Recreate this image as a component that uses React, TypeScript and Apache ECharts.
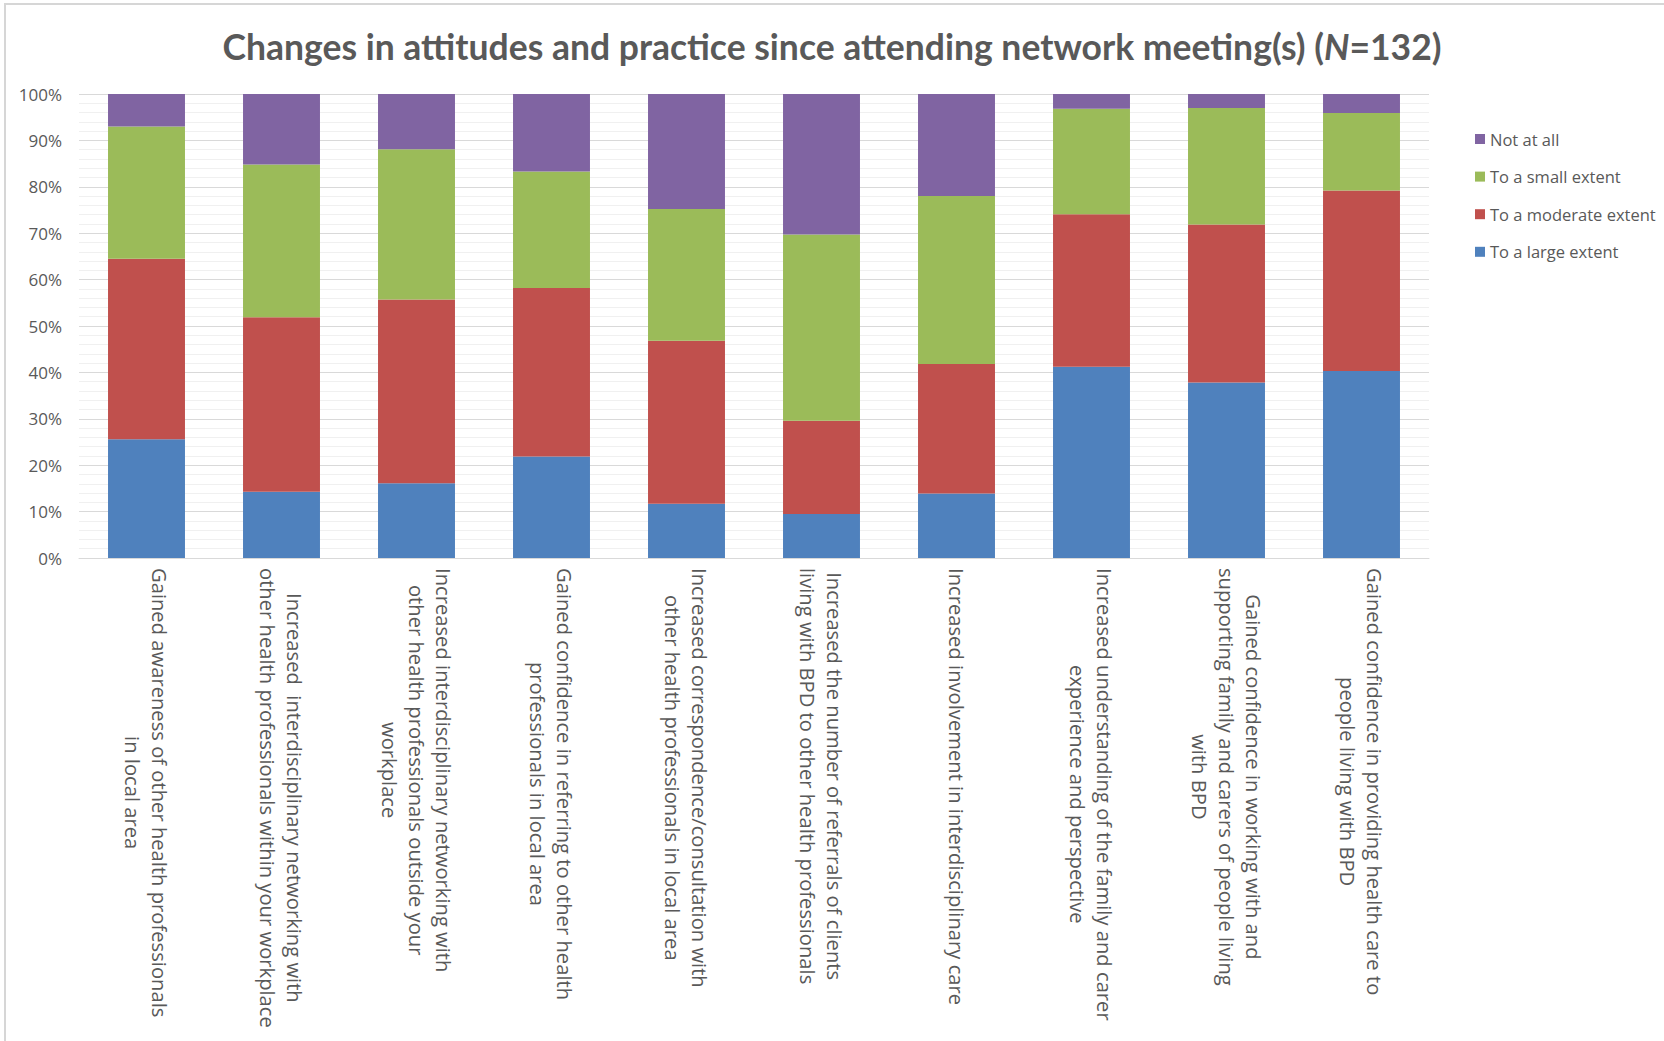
import React, { useEffect, useRef } from "react";
import * as echarts from "echarts";

const categories: string[] = [
  "Gained awareness of other health professionals\nin local area",
  "Increased  interdisciplinary networking with\nother health professionals within your workplace",
  "Increased interdisciplinary networking with\nother health professionals outside your\nworkplace",
  "Gained confidence in referring to other health\nprofessionals in local area",
  "Increased correspondence/consultation with\nother health professionals in local area",
  "Increased the number of referrals of clients\nliving with BPD to other health professionals",
  "Increased involvement in interdisciplinary care",
  "Increased understanding of the family and carer\nexperience and perspective",
  "Gained confidence in working with and\nsupporting family and carers of people living\nwith BPD",
  "Gained confidence in providing health care to\npeople living with BPD",
];

const largeExtent: number[] = [25.6, 14.3, 16.1, 21.9, 11.7, 9.5, 13.9, 41.2, 37.8, 40.3];
const moderateExtent: number[] = [38.9, 37.6, 39.6, 36.3, 35.1, 20.1, 27.9, 32.9, 34.1, 38.9];
const smallExtent: number[] = [28.5, 32.9, 32.4, 25.1, 28.4, 40.1, 36.2, 22.7, 25.1, 16.7];
const notAtAll: number[] = [7.0, 15.2, 11.9, 16.7, 24.8, 30.3, 22.0, 3.2, 3.0, 4.1];

const seriesNames: string[] = ["To a large extent", "To a moderate extent", "To a small extent", "Not at all"];
const legendOrder: string[] = ["Not at all", "To a small extent", "To a moderate extent", "To a large extent"];
const seriesColors: string[] = ["#4F81BD", "#C0504D", "#9BBB59", "#8064A2"];

const titleText = "Changes in attitudes and practice since attending network meeting(s) ({i|N}=132)";

export default function App() {
  const ref = useRef<HTMLDivElement>(null);

  useEffect(() => {
    if (!ref.current) return;
    const chart = echarts.init(ref.current, null, { renderer: "svg" });
    const values = [largeExtent, moderateExtent, smallExtent, notAtAll];
    const textColor = "#595959";
    const font = "'Open Sans', 'Noto Sans', sans-serif";
    const titleFont = "Lato, 'Open Sans', sans-serif";

    chart.setOption({
      animation: false,
      backgroundColor: "#ffffff",
      title: {
        text: titleText,
        left: "center",
        top: 23,
        textStyle: {
          fontFamily: titleFont,
          fontWeight: "bold",
          fontSize: 35.5,
          color: textColor,
          rich: {
            i: {
              fontFamily: titleFont,
              fontWeight: "bold",
              fontStyle: "italic",
              fontSize: 35.5,
              color: textColor,
            },
          },
        },
      },
      graphic: [
        {
          type: "rect",
          silent: true,
          shape: { x: 5, y: 4, width: 1700, height: 1100 },
          style: { fill: "none", stroke: "#d6d6d6", lineWidth: 2 },
        },
      ],
      legend: {
        orient: "vertical",
        left: 1470,
        top: 125.5,
        itemWidth: 10,
        itemHeight: 10,
        itemGap: 20.6,
        icon: "rect",
        data: legendOrder,
        textStyle: { fontFamily: font, fontSize: 16.5, color: textColor },
      },
      grid: { left: 79, right: 235, top: 94, bottom: 483, containLabel: false },
      xAxis: {
        type: "category",
        data: categories,
        axisTick: { show: false },
        axisLine: { lineStyle: { color: "#d9d9d9", width: 1 } },
        axisLabel: {
          interval: 0,
          rotate: -90,
          margin: 10,
          formatter: (v: string) => v.split("\n").map((l) => "{c|" + l + "}").join("\n"),
          rich: {
            c: { align: "center", fontFamily: font, fontSize: 20.2, lineHeight: 27, color: textColor },
          },
        },
      },
      yAxis: {
        type: "value",
        min: 0,
        max: 100,
        interval: 10,
        axisLine: { show: false },
        axisTick: { show: false },
        axisLabel: {
          formatter: "{value}%",
          margin: 17,
          fontFamily: font,
          fontSize: 17,
          color: textColor,
        },
        splitLine: { lineStyle: { color: "#d9d9d9", width: 1 } },
        minorTick: { show: false, splitNumber: 5 },
        minorSplitLine: { show: true, lineStyle: { color: "#f0f0f0", width: 1 } },
      },
      series: seriesNames.map((name, i) => ({
        name,
        type: "bar",
        stack: "total",
        barCategoryGap: "43%",
        data: values[i],
        itemStyle: { color: seriesColors[i] },
      })),
    });

    return () => chart.dispose();
  }, []);

  return (
    <div
      ref={ref}
      style={{ position: "absolute", left: 0, top: 0, width: 1664, height: 1041 }}
    />
  );
}
